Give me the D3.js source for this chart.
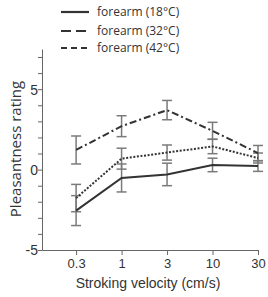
<!DOCTYPE html>
<html>
<head>
<meta charset="utf-8">
<script src="https://cdn.jsdelivr.net/npm/d3@7"></script>
<style>
  body { margin: 0; background: #fff; }
  svg { display: block; }
</style>
</head>
<body>
<svg id="chart"></svg>
<script>
// stroking velocities (cm/s), evenly spaced on the chart
let velocities = ['0.3', '1', '3', '10', '30'];

let series18 = [-2.55, -0.52, -0.3, 0.29, 0.22];
let err18 = [0.93, 0.87, 0.7, 0.42, 0.33];

let series32 = [1.22, 2.7, 3.7, 2.41, 1.03];
let err32 = [0.87, 0.65, 0.6, 0.53, 0.47];

let series42 = [-1.77, 0.68, 1.06, 1.44, 0.72];
let err42 = [0.85, 0.65, 0.47, 0.45, 0.31];

let legendLabels = ['forearm (18°C)', 'forearm (32°C)', 'forearm (42°C)'];
let yTicks = [-5, -4, -3, -2, -1, 0, 1, 2, 3, 4, 5, 6, 7];

let w = 268;
let h = 297;

let svg = d3.select('#chart')
            .attr('width', w)
            .attr('height', h);

let xScale = d3.scaleLinear()
               .domain([-0.75, 4])
               .range([42, 258]);

let yScale = d3.scaleLinear()
               .domain([-5, 7.5])
               .range([250, 49]);

let groups = [
  { vals: series18, errs: err18, dash: null, legendDash: null },
  { vals: series32, errs: err32, dash: '7,3,2,3', legendDash: '10,5' },
  { vals: series42, errs: err42, dash: '2,1.6', legendDash: '6,4' }
];

// axes
let xAxis = d3.axisBottom(xScale)
              .tickValues(d3.range(velocities.length))
              .tickFormat(i => velocities[i])
              .tickSize(5)
              .tickSizeOuter(0);

let yAxis = d3.axisLeft(yScale)
              .tickValues(yTicks)
              .tickFormat(d => d % 5 === 0 ? d : '')
              .tickSize(4)
              .tickSizeOuter(0);

let gx = svg.append('g')
   .attr('transform', 'translate(0,' + yScale(-5) + ')')
   .call(xAxis);

let gy = svg.append('g')
   .attr('transform', 'translate(' + xScale(-0.75) + ',0)')
   .call(yAxis);

[gx, gy].forEach(g => {
  g.select('.domain').attr('stroke', '#666').attr('stroke-width', 1);
  g.selectAll('.tick line').attr('stroke', '#666');
  g.selectAll('.tick text')
   .attr('fill', '#333')
   .style('font-family', 'Liberation Sans, Arial, sans-serif')
   .style('font-size', '13px');
});
gx.selectAll('.tick text').attr('y', 6).attr('dy', '0.95em');
gy.selectAll('.tick text').attr('x', -4).attr('dy', '0.35em').style('font-size', '14px');

// error bars
groups.forEach(g => {
  let eb = svg.append('g')
              .attr('stroke', '#7a7a7a')
              .attr('stroke-width', 1.5);
  g.vals.forEach((v, i) => {
    let x = xScale(i);
    let top = yScale(v + g.errs[i]);
    let bot = yScale(v - g.errs[i]);
    eb.append('line').attr('x1', x).attr('x2', x).attr('y1', top).attr('y2', bot);
    eb.append('line').attr('x1', x - 5).attr('x2', x + 5).attr('y1', top).attr('y2', top);
    eb.append('line').attr('x1', x - 5).attr('x2', x + 5).attr('y1', bot).attr('y2', bot);
  });
});

// series lines
let line = d3.line()
             .x((d, i) => xScale(i))
             .y(d => yScale(d));

groups.forEach(g => {
  svg.append('path')
     .datum(g.vals)
     .attr('d', line)
     .attr('fill', 'none')
     .attr('stroke', '#333')
     .attr('stroke-width', 2)
     .attr('stroke-dasharray', g.dash);
});

// legend
let legend = svg.append('g');
let legendY = [12, 31, 48];
groups.forEach((g, i) => {
  legend.append('line')
        .attr('x1', 61).attr('x2', 89)
        .attr('y1', legendY[i]).attr('y2', legendY[i])
        .attr('stroke', '#333')
        .attr('stroke-width', 2.2)
        .attr('stroke-dasharray', g.legendDash);
  legend.append('text')
        .attr('x', 97)
        .attr('y', legendY[i])
        .attr('dy', '0.35em')
        .attr('fill', '#333')
        .style('font-family', 'Open Sans, sans-serif')
        .style('font-size', '12px')
        .text(legendLabels[i]);
});

// axis titles
svg.append('text')
   .attr('x', 148)
   .attr('y', 288)
   .attr('text-anchor', 'middle')
   .attr('fill', '#333')
   .style('font-family', 'Liberation Sans, Arial, sans-serif')
   .style('font-size', '14px')
   .text('Stroking velocity (cm/s)');

svg.append('text')
   .attr('transform', 'translate(21,149) rotate(-90)')
   .attr('text-anchor', 'middle')
   .attr('fill', '#333')
   .style('font-family', 'Open Sans, sans-serif')
   .style('font-size', '15px')
   .text('Pleasantness rating');
</script>
</body>
</html>
